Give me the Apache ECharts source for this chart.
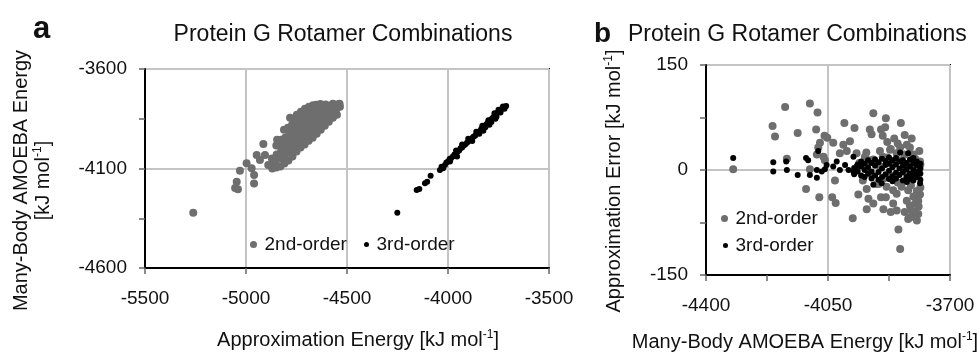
<!DOCTYPE html>
<html>
<head>
<meta charset="utf-8">
<script src="https://cdn.jsdelivr.net/npm/echarts@6/dist/echarts.min.js"></script>
<style>html,body{margin:0;padding:0;background:#fff;}#c{width:977px;height:352px;}</style>
</head>
<body>
<div id="c"></div>
<script>
// Panel a: x = approximation energy, y = many-body AMOEBA energy
const aSecondOrder = [
  [-5261,-4322],[-5046,-4166],[-5054,-4198],[-5040,-4204],[-5030,-4111],[-4997,-4074],[-4972,-4099],[-4960,-4133],
  [-4960,-4175],[-4947,-4032],[-4931,-4057],[-4914,-3977],[-4906,-4032],[-4890,-4082],[-4865,-4091],[-4856,-4057],
  [-4870,-4100],[-4868,-4075],[-4872,-4050],
  [-4850,-4095],[-4852,-4060],[-4848,-4030],[-4850,-3985],[-4846,-3955],
  [-4830,-4090],[-4832,-4050],[-4828,-4020],[-4830,-3990],[-4826,-3955],
  [-4810,-4075],[-4812,-4040],[-4808,-4010],[-4810,-3980],[-4806,-3945],[-4812,-3905],
  [-4790,-4060],[-4792,-4020],[-4788,-3990],[-4790,-3960],[-4786,-3930],[-4792,-3895],[-4782,-3845],
  [-4770,-4040],[-4772,-4005],[-4768,-3975],[-4770,-3945],[-4766,-3915],[-4772,-3880],[-4768,-3850],
  [-4750,-4015],[-4752,-3980],[-4748,-3950],[-4750,-3920],[-4746,-3890],[-4752,-3860],[-4748,-3830],
  [-4730,-3995],[-4732,-3965],[-4728,-3935],[-4730,-3905],[-4726,-3875],[-4732,-3845],[-4728,-3815],
  [-4710,-3980],[-4712,-3950],[-4708,-3920],[-4710,-3890],[-4706,-3860],[-4712,-3830],[-4708,-3800],
  [-4690,-3960],[-4692,-3930],[-4688,-3900],[-4690,-3870],[-4686,-3840],[-4692,-3810],[-4688,-3790],
  [-4670,-3945],[-4672,-3915],[-4668,-3885],[-4670,-3855],[-4666,-3825],[-4672,-3800],[-4668,-3782],
  [-4650,-3925],[-4652,-3895],[-4648,-3865],[-4650,-3835],[-4646,-3805],[-4652,-3780],
  [-4630,-3905],[-4632,-3875],[-4628,-3845],[-4630,-3815],[-4626,-3790],[-4632,-3776],
  [-4610,-3885],[-4612,-3855],[-4608,-3825],[-4610,-3800],[-4606,-3778],
  [-4590,-3865],[-4592,-3835],[-4588,-3810],[-4590,-3785],
  [-4570,-3845],[-4572,-3815],[-4568,-3790],[-4570,-3775],
  [-4550,-3830],[-4552,-3800],[-4548,-3778],
  [-4535,-3790],[-4537,-3775]
];
const aThirdOrder = [
  [-4251,-4322],[-4155,-4208],[-4142,-4203],[-4114,-4174],[-4103,-4166],[-4086,-4136],[-4040,-4108],[-4032,-4091],
  [-4024,-4099],[-4015,-4082],[-4008,-4070],[-4000,-4065],[-3992,-4052],[-3985,-4048],[-3976,-4040],[-3968,-4030],
  [-3960,-4025],[-3952,-4015],[-3945,-4010],[-3938,-3998],[-3930,-3995],[-3922,-3985],[-3915,-3980],[-3906,-3970],
  [-3898,-3962],[-3890,-3958],[-3882,-3948],[-3874,-3940],[-3866,-3935],[-3858,-3925],[-3850,-3918],[-3842,-3912],
  [-3835,-3900],[-3828,-3896],[-3820,-3888],[-3812,-3880],[-3805,-3872],[-3798,-3865],[-3790,-3858],[-3783,-3850],
  [-3776,-3842],[-3769,-3835],[-3762,-3828],[-3755,-3820],[-3748,-3812],[-3740,-3806],[-3733,-3800],[-3726,-3794],
  [-3719,-3790],[-3712,-3786],
  [-3960,-4010],[-3930,-3980],[-3900,-3950],[-3880,-3962],[-3860,-3915],[-3845,-3925],[-3830,-3885],[-3815,-3893],
  [-3800,-3858],[-3785,-3866],[-3770,-3822],[-3760,-3840],[-3750,-3805],[-3740,-3818],[-3728,-3788],[-3720,-3800],
  [-3765,-3850],[-3795,-3880],[-3825,-3910],[-3955,-4040],[-3990,-4065]
];
// Panel b: x = many-body AMOEBA energy, y = approximation error
const bSecondOrder = [
  [-4322,1],[-4209,63],[-4202,48],[-4173,90],[-4168,16],[-4102,95],[-4080,82],[-4137,53],[-4084,58],[-4052,46],
  [-4073,39],[-4078,32],[-4035,39],[-4003,67],[-3974,60],[-3920,81],[-3884,74],[-3841,67],[-3930,58],[-3925,51],
  [-3898,58],[-3886,61],[-3893,49],[-3824,36],[-3788,27],[-4060,49],
  [-4102,1],[-4113,-27],[-4075,-39],[-4038,-39],[-4028,-47],[-3979,-69],[-3963,-35],[-4030,-15],[-3939,-27],
  [-3934,-41],[-3939,-56],[-3920,-48],[-3891,-56],[-3898,-39],[-3884,-39],[-3848,-85],[-3843,-113],[-3820,-70],
  [-3805,-65],[-3791,-63],[-3800,-48],[-3791,-44],[-3824,-44],[-3815,-51],[-3853,-58],[-3863,-48],[-3839,-24],
  [-3820,-29],[-3863,-29],[-3853,-34],[-3882,-24],[-3786,12],[-3791,-5],[-3805,22],[-3815,32],[-3872,29],
  [-3853,24],[-3843,32],[-3901,27],[-3893,19],[-4016,24],[-3996,27],[-3968,24],[-4006,36],[-3987,41],[-3944,19],
  [-3934,14],[-4082,22],[-4063,19],[-4059,14],
  [-3960,10],[-3950,-15],[-3940,25],[-3930,-5],[-3920,15],[-3910,-20],[-3900,5],[-3890,-12],[-3880,18],[-3870,-8],
  [-3860,10],[-3850,-18],[-3840,14],[-3830,-3],[-3820,8],[-3810,-14],[-3800,16],[-3790,-6],[-3785,8],[-3870,30],
  [-3850,38],[-3830,22],[-3812,-22],[-3795,-30],[-3805,-38],[-3785,-25],[-3790,-52],[-3800,-60],[-3815,-68],
  [-3795,-72],[-3810,-58],[-3786,-35],[-3830,-60],[-3870,-60],[-3905,-20],[-3860,45],[-3830,50],[-3810,45],[-3880,40]
];
const bThirdOrder = [
  [-4322,17],[-4207,11],[-4207,-2],[-4170,12],[-4168,0],[-4137,-7],[-4113,17],[-4107,14],[-4102,-7],[-4082,-11],
  [-4078,27],[-4082,0],[-4068,-2],[-4059,1],[-4054,7],[-4035,5],[-4025,12],[-4016,0],[-4001,7],[-3977,19],
  [-3991,0],[-3977,-2],[-3968,5],[-3843,25],[-3820,24],[-3824,-17],[-3786,-19],[-3920,-21],[-3896,-19],
  [-3975,3],[-3975,-6],[-3965,-2],[-3965,8],[-3955,5],[-3955,-8],[-3955,12],[-3945,0],[-3945,-10],[-3945,9],
  [-3935,4],[-3935,-5],[-3935,14],[-3925,-2],[-3925,10],[-3925,-12],[-3915,6],[-3915,-8],[-3915,15],
  [-3905,-3],[-3905,11],[-3905,-14],[-3895,2],[-3895,-10],[-3895,16],[-3885,7],[-3885,-6],[-3885,13],
  [-3875,-1],[-3875,9],[-3875,-13],[-3875,18],[-3865,4],[-3865,-9],[-3865,14],[-3865,-16],
  [-3855,-4],[-3855,8],[-3855,-12],[-3855,17],[-3845,2],[-3845,-7],[-3845,12],[-3835,-3],[-3835,6],[-3835,-15],
  [-3835,14],[-3825,1],[-3825,10],[-3825,-10],[-3815,-5],[-3815,5],[-3815,15],[-3815,-13],
  [-3805,0],[-3805,9],[-3805,-8],[-3805,17],[-3805,-15],[-3795,-3],[-3795,6],[-3795,12],[-3795,-10],
  [-3785,2],[-3785,-5],[-3785,9],[-3785,-14]
];
const aXTicks = {min: -5500, max: -3500, interval: 500};
const aYTicks = {min: -4600, max: -3600, interval: 500};
const bXTicks = {min: -4400, max: -3700, interval: 350};
const bYTicks = {min: -150, max: 150, interval: 150};

const FONT = 'Liberation Sans, Arial, sans-serif';
const GRAY = '#6e6e6e';
const richName = {
  t: {fontSize: 20, fontFamily: FONT, color: '#111', lineHeight: 22},
  s: {fontSize: 12, fontFamily: FONT, color: '#111', lineHeight: 22, verticalAlign: 'top', padding: [0,0,6,0]}
};
function axisCommon(t) {
  return {
    type: 'value', min: t.min, max: t.max, interval: t.interval,
    axisLine: {show: true, onZero: false, lineStyle: {color: '#000', width: 2}},
    axisTick: {show: true, inside: false, length: 6, lineStyle: {color: '#666', width: 1.5}},
    axisLabel: {fontSize: 19, fontFamily: FONT, color: '#111', margin: 18, formatter: v => String(v)},
    splitLine: {show: true, lineStyle: {color: '#c4c4c4', width: 2}},
    nameLocation: 'middle',
    nameMoveOverlap: false
  };
}
const chart = echarts.init(document.getElementById('c'), null, {renderer: 'canvas'});
chart.setOption({
  backgroundColor: '#fff',
  animation: false,
  title: [
    {text: 'a', left: 33, top: 14, padding: 0, textStyle: {fontSize: 31, fontWeight: 'bold', fontFamily: FONT, color: '#111'}},
    {text: 'b', left: 594, top: 20, padding: 0, textStyle: {fontSize: 28, fontWeight: 'bold', fontFamily: FONT, color: '#111'}},
    {text: 'Protein G Rotamer Combinations', left: 343, textAlign: 'center', top: 23, padding: 0, textStyle: {fontSize: 23, fontWeight: 'normal', fontFamily: FONT, color: '#111'}},
    {text: 'Protein G Rotamer Combinations', left: 628, top: 23, padding: 0, textStyle: {fontSize: 23, fontWeight: 'normal', fontFamily: FONT, color: '#111'}}
  ],
  legend: [
    {data: ['2nd-order'], orient: 'horizontal', left: 250, top: 235, padding: 0, itemWidth: 12, itemHeight: 7, icon: 'circle', textStyle: {fontSize: 19, fontFamily: FONT, color: '#111'}, selectedMode: false},
    {data: ['3rd-order'], orient: 'horizontal', left: 364, top: 235, padding: 0, itemWidth: 10, itemHeight: 5, icon: 'circle', textStyle: {fontSize: 19, fontFamily: FONT, color: '#111'}, selectedMode: false},
    {data: ['2nd-order'], orient: 'vertical', left: 721, top: 209, padding: 0, itemWidth: 12, itemHeight: 7, icon: 'circle', textStyle: {fontSize: 19, fontFamily: FONT, color: '#111'}, selectedMode: false},
    {data: ['3rd-order'], orient: 'vertical', left: 723, top: 236, padding: 0, itemWidth: 10, itemHeight: 5, icon: 'circle', textStyle: {fontSize: 19, fontFamily: FONT, color: '#111'}, selectedMode: false}
  ],
  grid: [
    {left: 145, top: 69, width: 404, height: 199, containLabel: false, outerBoundsMode: 'none', show: true, borderColor: '#000', borderWidth: 2, backgroundColor: 'transparent'},
    {left: 706, top: 65, width: 244, height: 210, containLabel: false, outerBoundsMode: 'none', show: true, borderColor: '#000', borderWidth: 2, backgroundColor: 'transparent'}
  ],
  xAxis: [
    Object.assign(axisCommon(aXTicks), {gridIndex: 0,
      axisLabel: {fontSize: 19, fontFamily: FONT, color: '#111', margin: 21, formatter: v => String(v)},
      name: '{t|Approximation Energy [kJ mol}{s|-1}{t|]}', nameGap: 61,
      nameTextStyle: {rich: richName, padding: [0, 0, 0, 22]}}),
    Object.assign(axisCommon(bXTicks), {gridIndex: 1,
      axisLabel: {fontSize: 19, fontFamily: FONT, color: '#111', margin: 21, formatter: v => String(v)},
      minorTick: {show: true, splitNumber: 2, length: 6, lineStyle: {color: '#666', width: 1.5}},
      name: '{t|Many-Body AMOEBA Energy [kJ mol}{s|-1}{t|]}', nameGap: 56,
      nameTextStyle: {rich: richName, padding: [0, 46, 0, 0]}})
  ],
  yAxis: [
    Object.assign(axisCommon(aYTicks), {gridIndex: 0,
      minorTick: {show: true, splitNumber: 2, length: 6, lineStyle: {color: '#666', width: 1.5}},
      name: '{t|Many-Body AMOEBA Energy}\n{t|[kJ mol}{s|-1}{t|]}', nameGap: 91, nameRotate: 90,
      nameTextStyle: {rich: richName, align: 'center', padding: [0, 24, 0, 0]}}),
    Object.assign(axisCommon(bYTicks), {gridIndex: 1,
      minorTick: {show: true, splitNumber: 2, length: 6, lineStyle: {color: '#666', width: 1.5}},
      name: '{t|Approximation Error [kJ mol}{s|-1}{t|]}', nameGap: 81, nameRotate: 90,
      nameTextStyle: {rich: richName, padding: [0, 22, 0, 0]}})
  ],
  series: [
    {name: '2nd-order', type: 'scatter', xAxisIndex: 0, yAxisIndex: 0, data: aSecondOrder, symbolSize: 8, itemStyle: {color: GRAY, opacity: 1}},
    {name: '3rd-order', type: 'scatter', xAxisIndex: 0, yAxisIndex: 0, data: aThirdOrder, symbolSize: 6, itemStyle: {color: '#000', opacity: 1}},
    {name: '2nd-order', type: 'scatter', xAxisIndex: 1, yAxisIndex: 1, data: bSecondOrder, symbolSize: 8, itemStyle: {color: GRAY, opacity: 1}},
    {name: '3rd-order', type: 'scatter', xAxisIndex: 1, yAxisIndex: 1, data: bThirdOrder, symbolSize: 6, itemStyle: {color: '#000', opacity: 1}}
  ]
});
</script>
</body>
</html>
